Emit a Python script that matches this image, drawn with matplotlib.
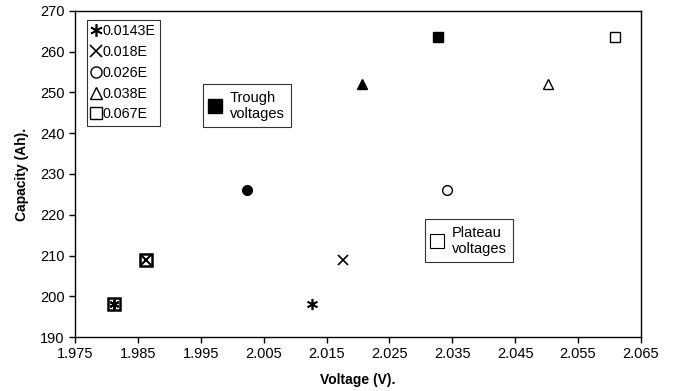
import matplotlib.pyplot as plt
from matplotlib.lines import Line2D

plt.rcParams['font.family'] = ['Liberation Sans', 'DejaVu Sans']

# Data
rates = ['0.0143E', '0.018E', '0.026E', '0.038E', '0.067E']
capacity = [198, 209, 226, 252, 263.5]
trough_v = [1.9812, 1.9863, 2.0023, 2.0207, 2.0327]
plateau_v = [2.0127, 2.0176, 2.0341, 2.0502, 2.0609]
x_ticks = [1.975, 1.985, 1.995, 2.005, 2.015, 2.025, 2.035, 2.045, 2.055, 2.065]
y_ticks = [190, 200, 210, 220, 230, 240, 250, 260, 270]

markers = [(6, 2, 0), 'x', 'o', '^', 's']
sizes = [8, 7, 7, 7, 7]

fig = plt.figure(figsize=(6.76, 3.91), dpi=100)
ax = fig.add_axes([0.111, 0.138, 0.837, 0.834])

handles = []
for i in range(len(rates)):
    m = markers[i]
    # trough (filled) points
    if i < 2:
        ax.plot(trough_v[i], capacity[i], marker='s', ms=8, mfc='white', mec='black', mew=1.8, ls='none')
        ax.plot(trough_v[i], capacity[i], marker=m, ms=7, color='black', mew=1.5, ls='none')
    else:
        ax.plot(trough_v[i], capacity[i], marker=m, ms=sizes[i], color='black', ls='none')
    # plateau (open) points
    if i < 2:
        ax.plot(plateau_v[i], capacity[i], marker=m, ms=sizes[i], color='black', mew=1.2, ls='none')
    else:
        ax.plot(plateau_v[i], capacity[i], marker=m, ms=sizes[i], mfc='white', mec='black', mew=1.0, ls='none')
    if i < 2:
        h = Line2D([], [], marker=m, ms=sizes[i] + 1, color='black', mew=1.2, ls='none')
    else:
        h = Line2D([], [], marker=m, ms=sizes[i] + 1, mfc='white', mec='black', mew=1.0, ls='none')
    handles.append(h)

leg1 = ax.legend(handles, rates, loc='upper left', bbox_to_anchor=(0.021, 0.972),
                 frameon=True, fancybox=False, edgecolor='black', fontsize=10.3,
                 handlelength=0.6, handletextpad=0.2, borderpad=0.3, labelspacing=0.47,
                 borderaxespad=0)
leg1.get_frame().set_linewidth(0.8)
ax.add_artist(leg1)

h_trough = Line2D([], [], marker='s', ms=10, color='black', ls='none')
leg2 = ax.legend([h_trough], ['Trough\nvoltages'], loc='upper left', bbox_to_anchor=(0.226, 0.776),
                 frameon=True, fancybox=False, edgecolor='black', fontsize=10.5,
                 handlelength=0.8, handletextpad=0.6, borderpad=0.45, borderaxespad=0)
leg2.get_frame().set_linewidth(0.8)
ax.add_artist(leg2)

h_plateau = Line2D([], [], marker='s', ms=10, mfc='white', mec='black', mew=0.8, ls='none')
leg3 = ax.legend([h_plateau], ['Plateau\nvoltages'], loc='upper left', bbox_to_anchor=(0.618, 0.362),
                 frameon=True, fancybox=False, edgecolor='black', fontsize=10.5,
                 handlelength=0.8, handletextpad=0.6, borderpad=0.45, borderaxespad=0)
leg3.get_frame().set_linewidth(0.8)

ax.set_xlim(1.975, 2.065)
ax.set_ylim(190, 270)
ax.set_xticks(x_ticks)
ax.set_xticklabels(['%.3f' % v for v in x_ticks])
ax.set_yticks(y_ticks)
ax.tick_params(direction='out', length=4, width=1, labelsize=10.5, colors='black')
for s in ax.spines.values():
    s.set_linewidth(1.0)

ax.set_xlabel('Voltage (V).', fontsize=10, fontweight='bold', labelpad=8)
ax.set_ylabel('Capacity (Ah).', fontsize=10, fontweight='bold', labelpad=8)

fig.savefig('out.png', dpi=100)
